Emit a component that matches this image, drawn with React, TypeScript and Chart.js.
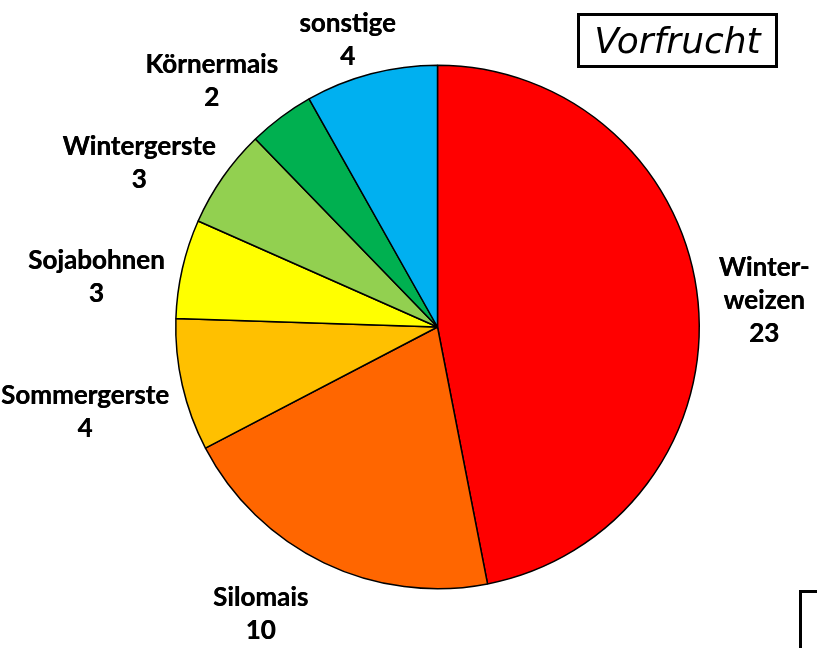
import React, { useEffect, useRef } from "react";
import { Chart, registerables } from "chart.js";

Chart.register(...registerables);

const categories = [
  "Winter-\nweizen",
  "Silomais",
  "Sommergerste",
  "Sojabohnen",
  "Wintergerste",
  "Körnermais",
  "sonstige",
];
const values = [23, 10, 4, 3, 3, 2, 4];
const colors = ["#FF0000", "#FF6600", "#FFC000", "#FFFF00", "#92D050", "#00B050", "#00B0F0"];
const title = "Vorfrucht";

// label placement: angle (deg clockwise from 12 o'clock) and distance as a multiple of the pie radius
const labelAngle = [85.3, 211.6, 256.5, 278.3, 298.7, 317.4, 342.6];
const labelDist = [1.252, 1.29, 1.385, 1.317, 1.30, 1.275, 1.149];

const labelPlugin = {
  id: "pieLabels",
  afterDraw(chart: any) {
    const ctx = chart.ctx;
    const meta = chart.getDatasetMeta(0);
    const arc0 = meta.data[0];
    if (!arc0) return;
    const cx = arc0.x;
    const cy = arc0.y;
    const R = arc0.outerRadius;
    ctx.save();
    ctx.fillStyle = "#000";
    ctx.font = "bold 26px Lato";
    ctx.textAlign = "center";
    ctx.textBaseline = "middle";
    const lh = 33;
    categories.forEach((cat, i) => {
      const a = (labelAngle[i] * Math.PI) / 180;
      const d = labelDist[i] * R;
      const x = cx + Math.sin(a) * d;
      const y = cy - Math.cos(a) * d;
      const lines = [...cat.split("\n"), String(values[i])];
      const top = y - ((lines.length - 1) * lh) / 2;
      lines.forEach((ln, j) => {
        ctx.fillText(ln, x, top + j * lh);
        ctx.fillText(ln, x + 0.4, top + j * lh);
      });
    });

    // title box
    ctx.lineWidth = 3;
    ctx.strokeStyle = "#000";
    ctx.strokeRect(578.5, 14.5, 198, 52);
    ctx.font = "italic 36px 'DejaVu Sans'";
    ctx.textAlign = "center";
    ctx.textBaseline = "alphabetic";
    ctx.fillText(title, 677.5, 53);

    // partial box at bottom right
    ctx.beginPath();
    ctx.moveTo(800.5, 660);
    ctx.lineTo(800.5, 591.5);
    ctx.lineTo(830, 591.5);
    ctx.stroke();
    ctx.restore();
  },
};

export default function App() {
  const ref = useRef<HTMLCanvasElement | null>(null);
  useEffect(() => {
    if (!ref.current) return;
    const chart = new Chart(ref.current, {
      type: "pie",
      data: {
        labels: categories.map((c) => c.replace("-\n", "")),
        datasets: [
          {
            data: values,
            backgroundColor: colors,
            borderColor: "#000",
            borderWidth: 1.5,
          },
        ],
      },
      options: {
        responsive: false,
        animation: false,
        layout: { padding: { left: 175, right: 117, top: 64, bottom: 58 } },
        plugins: {
          legend: { display: false },
          tooltip: { enabled: false },
          title: { display: false },
        },
      },
      plugins: [labelPlugin],
    });
    return () => chart.destroy();
  }, []);
  return (
    <div style={{ position: "fixed", left: 0, top: 0, width: 817, height: 648, background: "#fff" }}>
      <canvas ref={ref} width={817} height={648} />
    </div>
  );
}
